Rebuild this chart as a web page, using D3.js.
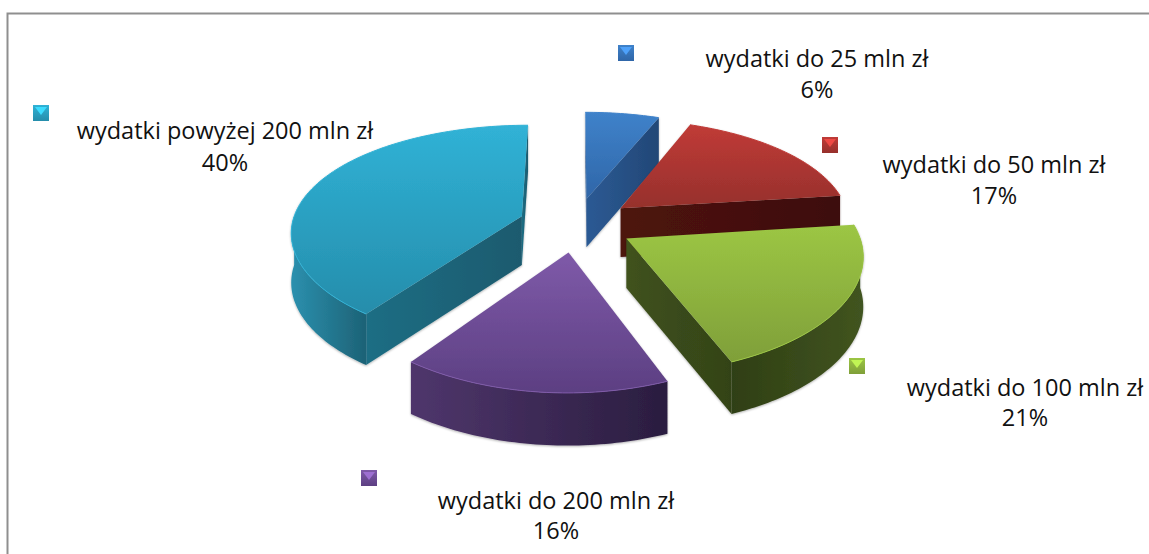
<!DOCTYPE html>
<html>
<head>
<meta charset="utf-8">
<script src="https://cdn.jsdelivr.net/npm/d3@7/dist/d3.min.js"></script>
<style>
    html, body { margin: 0; padding: 0; background: #fff; overflow: hidden; }
    text { font-family: "Open Sans", Lato, sans-serif; font-size: 23.5px; fill: #111; text-anchor: middle; }
</style>
</head>
<body>
<script>
// chart data
var categories = ['wydatki do 25 mln zł', 'wydatki do 50 mln zł', 'wydatki do 100 mln zł',
                  'wydatki do 200 mln zł', 'wydatki powyżej 200 mln zł'];
var shares = [6, 17, 21, 16, 40];

// slice colours, same order as categories
var topColors  = [['#3f82ca', '#2f66a8'], ['#c03b37', '#96302c'], ['#9cc644', '#7f9f39'],
                  ['#7f5aa9', '#5c3f82'], ['#30b2d6', '#258dab']];
var wallColors = [['#2a578f', '#234a7c'], ['#4c1210', '#3e0e0c'], ['#415420', '#2f3f14'],
                  ['#4f366c', '#2a1d3f'], ['#2b90ae', '#1d6276']];
var faceColors = [['#2c5a94', '#224776'], ['#4e1311', '#3d0e0c'], ['#40521c', '#334318'],
                  ['#3c2a55', '#3c2a55'], ['#1f6e84', '#1a5a6e']];

// legend + label anchors: [marker x, marker y, label x, 1st baseline, 2nd baseline]
var labelSpots = [[618, 45, 817, 67, 98], [822, 137, 994, 173, 204], [849, 358, 1025, 396, 426],
                  [361, 470, 556, 509, 539], [33, 105, 225, 139, 171]];

const width = 1149, height = 554;

// projection of the exploded pie, units of one pie radius
const cx = 576, cy = 224.5;
const radiusX = 230, radiusY = 108;
const perspectiveX = 0.13, perspectiveY = 0.16;
const explode = 0.25;
const depth = 49;

function project(u, v, down) {
    var y = cy + radiusY * v / (1 - perspectiveY * v);
    if(down) y += depth / (1 - 0.35 * perspectiveY * v);
    return [cx + radiusX * u / (1 - perspectiveX * v), y];
}

var svg = d3.select('body').append('svg')
    .attr('width', width)
    .attr('height', height);

var defs = svg.append('defs');

function gradient(id, colors, horizontal) {
    var g = defs.append('linearGradient').attr('id', id)
        .attr('x1', 0).attr('y1', 0)
        .attr('x2', horizontal ? 1 : 0).attr('y2', horizontal ? 0 : 1);
    g.append('stop').attr('offset', '0%').attr('stop-color', colors[0]);
    g.append('stop').attr('offset', '100%').attr('stop-color', colors[1]);
    return 'url(#' + id + ')';
}

var shadow = defs.append('filter').attr('id', 'soft')
    .attr('x', '-10%').attr('y', '-10%').attr('width', '120%').attr('height', '120%');
shadow.append('feDropShadow')
    .attr('dx', 0).attr('dy', 1).attr('stdDeviation', 1.2)
    .attr('flood-color', '#000').attr('flood-opacity', 0.3);

// chart frame, only the left and top edge are in the picture
svg.append('path')
    .attr('d', d3.line()([[7.5, height], [7.5, 13.5], [width, 13.5]]))
    .attr('fill', 'none')
    .attr('stroke', '#8f8f8f')
    .attr('stroke-width', 2);

var pie = d3.pie().sort(null).value(function(d) { return d; });
var arcs = pie(shares);
var line = d3.line();

function drawSlice(a, i) {
    var mid = (a.startAngle + a.endAngle) / 2;
    var ox = explode * Math.sin(mid), oy = -explode * Math.cos(mid);

    function pt(angle, down) {
        return project(ox + Math.sin(angle), oy - Math.cos(angle), down);
    }
    function apex(down) {
        return project(ox, oy, down);
    }
    function rim(from, to, down) {
        var n = Math.max(2, Math.ceil((to - from) / 0.02));
        return d3.range(n + 1).map(function(k) {
            return pt(from + (to - from) * k / n, down);
        });
    }

    var g = svg.append('g').attr('filter', 'url(#soft)');

    // radial cut faces, back faces dropped by the winding of the quad
    [a.startAngle, a.endAngle].forEach(function(angle, j) {
        var quad = [apex(false), pt(angle, false), pt(angle, true), apex(true)];
        var area = d3.polygonArea(quad);
        if((j === 0 && area > 0) || (j === 1 && area < 0)) {
            g.append('path')
                .attr('d', line(quad) + 'Z')
                .attr('fill', gradient('face' + i + j, faceColors[i], true));
        }
    });

    // outer wall, only the part turned to the viewer
    var from = Math.max(a.startAngle, Math.PI / 2);
    var to = Math.min(a.endAngle, 3 * Math.PI / 2);
    if(to > from) {
        var wall = rim(from, to, false).concat(rim(from, to, true).reverse());
        g.append('path')
            .attr('d', line(wall) + 'Z')
            .attr('fill', gradient('wall' + i, i === 2 ? wallColors[i].slice().reverse() : wallColors[i], true));
    }

    // top face
    var top = [apex(false)].concat(rim(a.startAngle, a.endAngle, false));
    g.append('path')
        .attr('d', line(top) + 'Z')
        .attr('fill', gradient('top' + i, topColors[i], false));
    g.append('path')
        .attr('d', line(rim(a.startAngle, a.endAngle, false)))
        .attr('fill', 'none')
        .attr('stroke', topColors[i][0])
        .attr('stroke-width', 1);
}

// painter's order, far slices first
[4, 0, 1, 2, 3].forEach(function(i) { drawSlice(arcs[i], i); });

function drawMarker(x, y, i) {
    const s = 16;
    var g = svg.append('g').attr('transform', 'translate(' + x + ',' + y + ')');
    g.append('rect').attr('width', s).attr('height', s)
        .attr('fill', gradient('mark' + i, [topColors[i][0], topColors[i][1]], false));
    g.append('path')
        .attr('d', line([[2, 2], [s - 2, 2], [s / 2, s / 2 + 2]]) + 'Z')
        .attr('fill', d3.color(topColors[i][0]).brighter(0.6));
}

categories.forEach(function(name, i) {
    var spot = labelSpots[i];
    drawMarker(spot[0], spot[1], i);
    svg.append('text').attr('x', spot[2]).attr('y', spot[3]).text(name);
    svg.append('text').attr('x', spot[2]).attr('y', spot[4]).text(shares[i] + '%');
});
</script>
</body>
</html>
